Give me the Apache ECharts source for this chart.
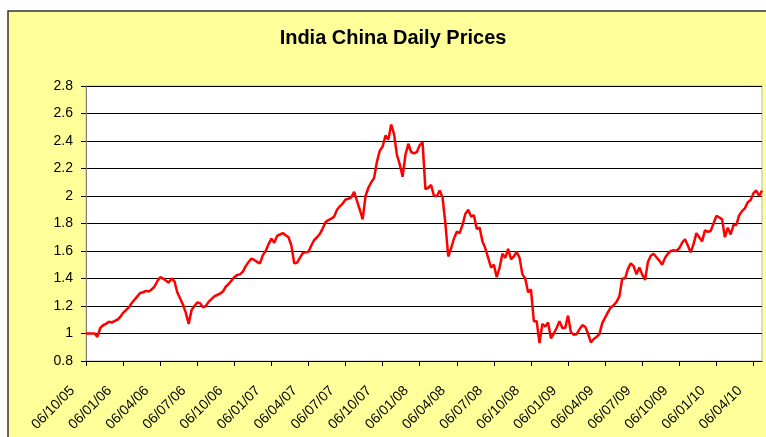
<!DOCTYPE html>
<html>
<head>
<meta charset="utf-8">
<title>India China Daily Prices</title>
<script src="https://cdn.jsdelivr.net/npm/echarts@6/dist/echarts.min.js"></script>
<style>
  html, body { margin: 0; padding: 0; background: #fff; }
  #chart { width: 766px; height: 437px; }
</style>
</head>
<body>
<div id="chart"></div>
<script>
// Weekly closes, starting 06/10/05 (13 weeks = one tick).
const START = [2005, 9, 6]; // year, month index, day
const prices = [
  1.00, 1.00, 1.00, 1.00, 0.975, 1.04, 1.06, 1.07, 1.085, 1.08,
  1.09, 1.10, 1.12, 1.15, 1.17, 1.19, 1.22, 1.245, 1.27, 1.295,
  1.30, 1.31, 1.305, 1.32, 1.34, 1.38, 1.41, 1.40, 1.385, 1.37,
  1.40, 1.38, 1.30, 1.255, 1.21, 1.15, 1.07, 1.17, 1.20, 1.225,
  1.22, 1.19, 1.20, 1.23, 1.25, 1.27, 1.28, 1.29, 1.305, 1.34,
  1.36, 1.385, 1.41, 1.425, 1.43, 1.45, 1.49, 1.52, 1.545, 1.535,
  1.52, 1.51, 1.57, 1.60, 1.65, 1.69, 1.66, 1.71, 1.72, 1.73,
  1.715, 1.70, 1.64, 1.51, 1.515, 1.55, 1.585, 1.59, 1.595, 1.64,
  1.68, 1.70, 1.725, 1.765, 1.81, 1.825, 1.835, 1.85, 1.90, 1.925,
  1.945, 1.975, 1.98, 1.99, 2.03, 1.965, 1.90, 1.83, 2.00, 2.06,
  2.10, 2.13, 2.25, 2.33, 2.36, 2.44, 2.41, 2.52, 2.45, 2.30,
  2.23, 2.14, 2.30, 2.38, 2.32, 2.31, 2.32, 2.37, 2.39, 2.05,
  2.06, 2.08, 2.00, 2.00, 2.04, 1.99, 1.80, 1.56, 1.62, 1.69,
  1.74, 1.73, 1.79, 1.87, 1.90, 1.85, 1.86, 1.76, 1.77, 1.67,
  1.62, 1.55, 1.48, 1.50, 1.41, 1.48, 1.58, 1.55, 1.615, 1.54,
  1.56, 1.595, 1.55, 1.43, 1.40, 1.30, 1.32, 1.09, 1.09, 0.93,
  1.07, 1.05, 1.08, 0.965, 1.00, 1.04, 1.09, 1.04, 1.04, 1.13,
  1.01, 0.99, 0.995, 1.03, 1.06, 1.05, 1.00, 0.935, 0.96, 0.975,
  0.995, 1.075, 1.115, 1.155, 1.19, 1.205, 1.23, 1.27, 1.40, 1.40,
  1.47, 1.51, 1.49, 1.43, 1.48, 1.43, 1.39, 1.52, 1.565, 1.58,
  1.555, 1.53, 1.50, 1.55, 1.58, 1.60, 1.605, 1.60, 1.62, 1.66,
  1.685, 1.64, 1.59, 1.65, 1.73, 1.70, 1.67, 1.75, 1.74, 1.745,
  1.80, 1.855, 1.845, 1.83, 1.70, 1.77, 1.72, 1.79, 1.79, 1.86,
  1.89, 1.91, 1.955, 1.97, 2.02, 2.04, 2.00, 2.04
];
const tickLabels = [
  '06/10/05', '06/01/06', '06/04/06', '06/07/06', '06/10/06', '06/01/07',
  '06/04/07', '06/07/07', '06/10/07', '06/01/08', '06/04/08', '06/07/08',
  '06/10/08', '06/01/09', '06/04/09', '06/07/09', '06/10/09', '06/01/10',
  '06/04/10'
];
const WEEKS_PER_TICK = 13;

const pad = (n) => String(n).padStart(2, '0');
const categories = prices.map((_, i) => {
  const d = new Date(START[0], START[1], START[2] + 7 * i);
  return `${pad(d.getDate())}/${pad(d.getMonth() + 1)}/${pad(d.getFullYear() % 100)}`;
});

const FONT = 'Liberation Sans, Arial, sans-serif';
const chart = echarts.init(document.getElementById('chart'), null, { renderer: 'canvas' });
chart.setOption({
  animation: false,
  backgroundColor: '#ffffff',
  textStyle: { fontFamily: FONT },
  graphic: [{
    type: 'rect', z: -10, silent: true,
    shape: { x: 8, y: 11, width: 780, height: 450 },
    style: { fill: '#FFFF99', stroke: '#333333', lineWidth: 1.5 },
  }],
  title: {
    text: 'India China Daily Prices',
    left: 388, top: 23, textAlign: 'center',
    textStyle: { fontSize: 20, fontWeight: 'bold', color: '#000', fontFamily: FONT },
  },
  grid: {
    left: 86, top: 86, width: 676, height: 275,
    show: true, backgroundColor: '#ffffff', borderColor: '#b8b8b8', borderWidth: 1,
  },
  xAxis: {
    type: 'category',
    data: categories,
    boundaryGap: false,
    axisLine: { lineStyle: { color: '#000', width: 1 } },
    axisTick: { interval: WEEKS_PER_TICK - 1, length: 5, lineStyle: { color: '#000' } },
    axisLabel: {
      interval: WEEKS_PER_TICK - 1, rotate: 45, margin: 14,
      padding: [0, 19, 0, 0],
      fontSize: 14, color: '#000',
      formatter: (v, i) => tickLabels[Math.round(i / WEEKS_PER_TICK)] || '',
    },
    splitLine: { show: false },
  },
  yAxis: {
    type: 'value', min: 0.8, max: 2.8, interval: 0.2,
    axisLine: { show: true, lineStyle: { color: '#808080', width: 1 } },
    axisTick: { show: true, length: 5, lineStyle: { color: '#000' } },
    axisLabel: { fontSize: 14, color: '#000', margin: 13,
      formatter: (v) => String(Math.round(v * 10) / 10) },
    splitLine: { lineStyle: { color: '#000', width: 1 } },
  },
  series: [{
    name: 'India China',
    type: 'line',
    data: prices,
    showSymbol: false,
    lineStyle: { color: '#FF0000', width: 2.5 },
    itemStyle: { color: '#FF0000' },
  }],
});
</script>
</body>
</html>
